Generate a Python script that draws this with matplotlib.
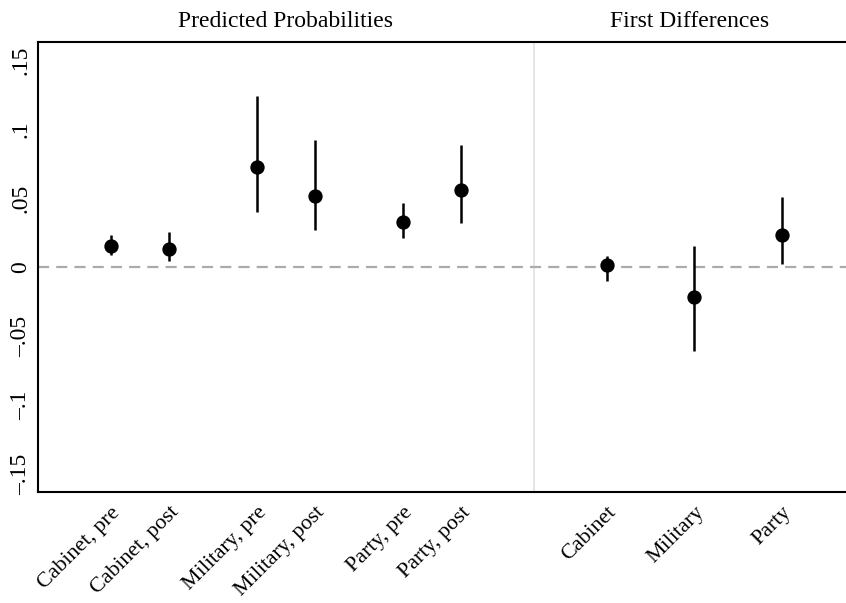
import numpy as np
import matplotlib
matplotlib.use("Agg")
import matplotlib.pyplot as plt

plt.rcParams['font.family'] = ['Liberation Serif', 'DejaVu Serif']

# predicted probabilities
pp_labels = ["Cabinet, pre", "Cabinet, post", "Military, pre", "Military, post", "Party, pre", "Party, post"]
pp_est = [0.0152, 0.013, 0.0725, 0.0515, 0.0326, 0.0558]
pp_lo = [0.0087, 0.0043, 0.040, 0.0268, 0.021, 0.0319]
pp_hi = [0.0232, 0.0254, 0.124, 0.092, 0.0464, 0.0884]

# first differences
fd_labels = ["Cabinet", "Military", "Party"]
fd_est = [0.0015, -0.0217, 0.0232]
fd_lo = [-0.010, -0.061, 0.0022]
fd_hi = [0.008, 0.0152, 0.0507]

yticks = [-0.15, -0.1, -0.05, 0, 0.05, 0.1, 0.15]
ytick_labels = ["\u2013.15", "\u2013.1", "\u2013.05", "0", ".05", ".1", ".15"]

pp_x = [0, 2, 5, 7, 10, 12]
fd_x = [17, 20, 23]
sep_x = 14.5

fig = plt.figure(figsize=(8.46, 6.03), dpi=100)
ax = fig.add_axes([38/846, 111/603, 1 - 38/846, 450/603])

ax.axvline(sep_x, color="#e3e3e3", lw=1.3, zorder=1)
ax.axhline(0, color="#ababab", lw=1.6, dashes=(5, 3.2), zorder=1)

est = pp_est + fd_est
lo = pp_lo + fd_lo
hi = pp_hi + fd_hi
xs = pp_x + fd_x
ax.vlines(xs, lo, hi, color="black", lw=1.8, zorder=2)
ax.plot(xs, est, "o", color="black", ms=9.3, zorder=3)

ax.set_xlim(-2.5, 25.2)
ax.set_ylim(-0.163, 0.163)
ax.set_yticks(yticks)
ax.set_yticklabels(ytick_labels, rotation=90, va="center", fontsize=17)
ax.set_xticks(xs)
ax.set_xticklabels(pp_labels + fd_labels, rotation=45, ha="right", va="top",
                   rotation_mode="anchor", fontsize=15.8)
ax.tick_params(axis="both", length=0)
ax.tick_params(axis="y", pad=5)
ax.tick_params(axis="x", pad=8)

for s in ["left", "top", "bottom"]:
    ax.spines[s].set_linewidth(1.5)
ax.spines["right"].set_visible(False)

ax.text(np.mean([pp_x[0] - 2.5, sep_x]), 1.022, "Predicted Probabilities", transform=ax.get_xaxis_transform(),
        ha="center", va="bottom", fontsize=17)
ax.text(np.mean([sep_x, 25.2]), 1.022, "First Differences", transform=ax.get_xaxis_transform(),
        ha="center", va="bottom", fontsize=17)

fig.savefig("out.png", dpi=100)
